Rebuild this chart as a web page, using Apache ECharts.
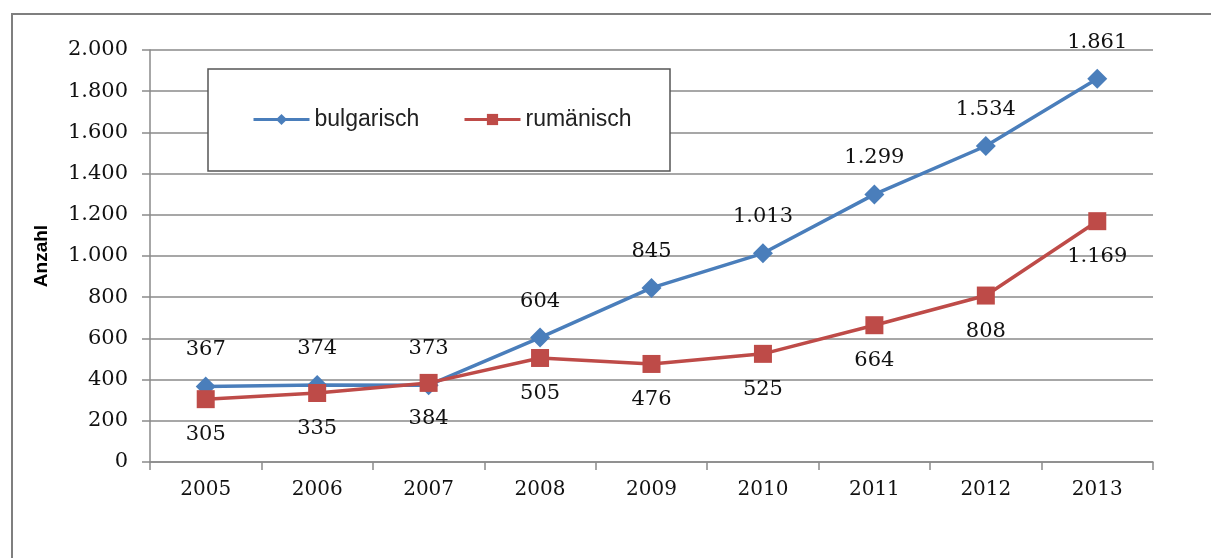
<!DOCTYPE html>
<html>
<head>
<meta charset="utf-8">
<script src="https://cdn.jsdelivr.net/npm/echarts@6/dist/echarts.min.js"></script>
<style>
  html, body { margin: 0; padding: 0; background: #fff; }
  #chart { width: 1211px; height: 558px; }
</style>
</head>
<body>
<div id="chart"></div>
<script>
const years = ['2005', '2006', '2007', '2008', '2009', '2010', '2011', '2012', '2013']
const bulgarisch = [367, 374, 373, 604, 845, 1013, 1299, 1534, 1861]
const rumaenisch = [305, 335, 384, 505, 476, 525, 664, 808, 1169]

const blue = '#4a7ebb'
const red = '#be4b48'
const gridGray = '#8a8a8a'
const numFont = 'DejaVu Serif'

// German thousands separator: 1.861
function fmt(v) {
  return String(v).replace(/\B(?=(\d{3})+(?!\d))/g, '.')
}

const legendText = { fontFamily: 'Liberation Sans', fontSize: 23, color: '#222' }

const chart = echarts.init(document.getElementById('chart'))

chart.setOption({
  animation: false,
  backgroundColor: '#fff',
  graphic: [
    {
      // outer frame, cut off on right and bottom
      type: 'rect',
      shape: { x: 12, y: 14, width: 1215, height: 560 },
      style: { fill: 'none', stroke: '#7f7f7f', lineWidth: 2 },
      silent: true,
    },
    {
      // legend frame
      type: 'rect',
      shape: { x: 208, y: 69, width: 462, height: 102 },
      style: { fill: '#fff', stroke: '#555', lineWidth: 1.5 },
      z: 5,
      silent: true,
    },
  ],
  legend: [
    {
      data: ['bulgarisch'],
      left: 252,
      top: 108,
      padding: 0,
      itemWidth: 56,
      itemHeight: 14,
      itemGap: 0,
      lineStyle: { width: 3 },
      textStyle: legendText,
      z: 10,
    },
    {
      data: ['rumänisch'],
      left: 463,
      top: 108,
      padding: 0,
      itemWidth: 56,
      itemHeight: 14,
      lineStyle: { width: 3 },
      textStyle: legendText,
      z: 10,
    },
  ],
  grid: {
    left: 150,
    right: 58,
    top: 50,
    bottom: 96,
  },
  xAxis: {
    type: 'category',
    data: years,
    boundaryGap: true,
    axisLine: { lineStyle: { color: gridGray, width: 1.5 } },
    axisTick: { show: true, length: 8, lineStyle: { color: gridGray, width: 1.5 } },
    axisLabel: {
      margin: 18,
      fontFamily: numFont,
      fontSize: 20,
      color: '#111',
    },
  },
  yAxis: {
    type: 'value',
    min: 0,
    max: 2000,
    interval: 200,
    name: 'Anzahl',
    nameLocation: 'middle',
    nameGap: 99,
    nameRotate: 90,
    nameTextStyle: {
      fontFamily: 'Liberation Sans',
      fontWeight: 'bold',
      fontSize: 19,
      color: '#000',
    },
    axisLine: { show: true, lineStyle: { color: gridGray, width: 1.5 } },
    axisTick: { show: true, length: 8, lineStyle: { color: gridGray, width: 1.5 } },
    axisLabel: {
      margin: 22,
      fontFamily: numFont,
      fontSize: 21,
      color: '#111',
      formatter: (v) => fmt(v),
    },
    splitLine: { lineStyle: { color: gridGray, width: 1.5 } },
  },
  series: [
    {
      name: 'bulgarisch',
      type: 'line',
      data: bulgarisch,
      color: blue,
      symbol: 'diamond',
      symbolSize: 20,
      lineStyle: { width: 3.5, color: blue },
      itemStyle: { color: blue },
      label: {
        show: true,
        position: 'top',
        distance: 16,
        fontFamily: numFont,
        fontSize: 21,
        color: '#111',
        formatter: (p) => fmt(p.value),
      },
      z: 3,
    },
    {
      name: 'rumänisch',
      type: 'line',
      data: rumaenisch,
      color: red,
      symbol: 'rect',
      symbolSize: 18,
      lineStyle: { width: 3.5, color: red },
      itemStyle: { color: red },
      label: {
        show: true,
        position: 'bottom',
        distance: 16,
        fontFamily: numFont,
        fontSize: 21,
        color: '#111',
        formatter: (p) => fmt(p.value),
      },
      z: 4,
    },
  ],
})
</script>
</body>
</html>
